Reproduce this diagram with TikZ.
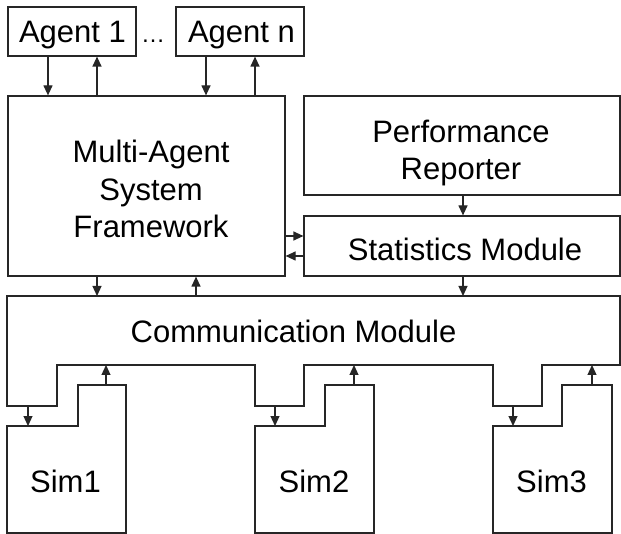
\documentclass[tikz,border=0pt]{standalone}
\usepackage{fontspec}
\setmainfont{Liberation Sans}
\usetikzlibrary{arrows.meta}
\begin{document}
\begin{tikzpicture}[x=1pt,y=-1pt,
  box/.style={draw=black!85, rectangle, inner sep=0pt, line width=1.2pt},
  txt/.style={font=\fontsize{31}{37.5}\selectfont, inner sep=0pt, anchor=base, align=center},
  arr/.style={-{Triangle[length=10pt,width=9pt]}, line width=1.2pt, draw=black!85, fill=black!85},
  shp/.style={draw=black!85, line width=1.2pt, line join=miter}]
\useasboundingbox (0,0) rectangle (621,534);

% boxes
\node[box, minimum width=128pt, minimum height=49pt] (a1) at (72,31.5) {};
\node[box, minimum width=128pt, minimum height=49pt] (an) at (240,31.5) {};
\node[box, minimum width=277pt, minimum height=180pt] (mas) at (146.5,186) {};
\node[box, minimum width=316pt, minimum height=99pt] (perf) at (462,145.5) {};
\node[box, minimum width=316pt, minimum height=60pt] (stats) at (462,246) {};

% communication module and simulators
\draw[shp] (7,296) coordinate (cm) -- (620,296) -- (620,365) -- (542,365) -- (542,406) -- (493,406)
  -- (493,365) -- (304,365) -- (304,406) -- (255,406) -- (255,365) -- (57,365) -- (57,406) -- (7,406) -- cycle;
\draw[shp] (7,426) -- (78,426) -- (78,385) -- (126,385) -- (126,533) -- (7,533) -- cycle;
\draw[shp] (255,426) -- (325,426) -- (325,385) -- (374,385) -- (374,533) -- (255,533) -- cycle;
\draw[shp] (493,426) -- (562,426) -- (562,385) -- (612,385) -- (612,533) -- (493,533) -- cycle;

% texts
\node[txt] (ta1) at (72.5,43) {Agent 1};
\node[txt, font=\fontsize{24}{28}\selectfont] (dots) at (153,43) {…};
\node[txt] (tan) at (241.5,43) {Agent n};
\node[txt] (tmas) at (151,238) {Multi-Agent\\System\\Framework};
\node[txt] (tperf) at (461,180) {Performance\\Reporter};
\node[txt] (tstats) at (465,261) {Statistics Module};
\node[txt] (tcomm) at (293.5,343) {Communication Module};
\node[txt] (ts1) at (65.5,492) {Sim1};
\node[txt] (ts2) at (314,492) {Sim2};
\node[txt] (ts3) at (551.5,492) {Sim3};

% coordinates for arrow columns / rows
\coordinate (x48) at (48,0);
\coordinate (x97) at (97,0);
\coordinate (x206) at (206,0);
\coordinate (x255) at (255,0);
\coordinate (x463) at (463,0);
\coordinate (x196) at (196,0);
\coordinate (y236) at (0,236);
\coordinate (y256) at (0,256);
\coordinate (cmtop) at (0,296);

% agent <-> MAS
\draw[arr] (a1.south -| x48) -- (mas.north -| x48);
\draw[arr] (mas.north -| x97) -- (a1.south -| x97);
\draw[arr] (an.south -| x206) -- (mas.north -| x206);
\draw[arr] (mas.north -| x255) -- (an.south -| x255);
% perf -> stats
\draw[arr] (perf.south -| x463) -- (stats.north -| x463);
% MAS <-> stats
\draw[arr] (mas.east |- y236) -- (stats.west |- y236);
\draw[arr] (stats.west |- y256) -- (mas.east |- y256);
% to communication module
\draw[arr] (mas.south -| x97) -- (cmtop -| x97);
\draw[arr] (cmtop -| x196) -- (mas.south -| x196);
\draw[arr] (stats.south -| x463) -- (cmtop -| x463);

% comm <-> sims
\coordinate (c1) at (28,406);  \coordinate (s1) at (28,426);
\coordinate (s1u) at (106,385); \coordinate (c1u) at (106,365);
\coordinate (c2) at (275,406); \coordinate (s2) at (275,426);
\coordinate (s2u) at (354,385); \coordinate (c2u) at (354,365);
\coordinate (c3) at (513,406); \coordinate (s3) at (513,426);
\coordinate (s3u) at (592,385); \coordinate (c3u) at (592,365);
\draw[arr] (c1) -- (s1);
\draw[arr] (s1u) -- (c1u);
\draw[arr] (c2) -- (s2);
\draw[arr] (s2u) -- (c2u);
\draw[arr] (c3) -- (s3);
\draw[arr] (s3u) -- (c3u);
\end{tikzpicture}
\end{document}
